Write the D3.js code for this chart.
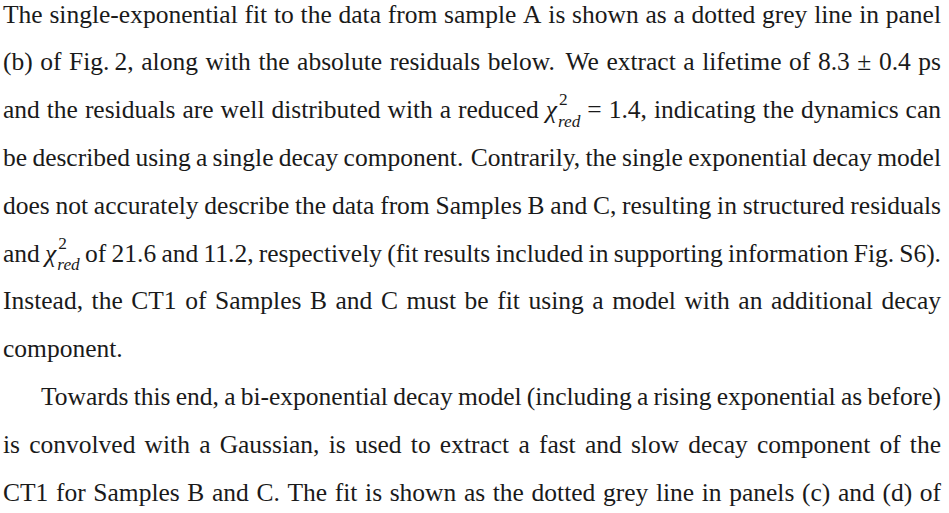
<!DOCTYPE html>
<html>
<head>
<meta charset="utf-8">
<script src="https://cdn.jsdelivr.net/npm/d3@7"></script>
<style>
  body { margin: 0; background: #fff; }
  svg { display: block; }
</style>
</head>
<body>
<div id="page"></div>
<script>
// TEXT DATA: one string per printed line, "{chi}" marks the chi^2_red symbol,
// a double space marks a sentence end (wider TeX space)
const lineText = [
  "The single-exponential fit to the data from sample A is shown as a dotted grey line in panel",
  "(b) of Fig.\u20092, along with the absolute residuals below.  We extract a lifetime of 8.3 \u00b1 0.4 ps",
  "and the residuals are well distributed with a reduced {chi} = 1.4, indicating the dynamics can",
  "be described using a single decay component.  Contrarily, the single exponential decay model",
  "does not accurately describe the data from Samples B and C, resulting in structured residuals",
  "and {chi} of 21.6 and 11.2, respectively (fit results included in supporting information Fig.\u2009S6).",
  "Instead, the CT1 of Samples B and C must be fit using a model with an additional decay",
  "component.",
  "Towards this end, a bi-exponential decay model (including a rising exponential as before)",
  "is convolved with a Gaussian, is used to extract a fast and slow decay component of the",
  "CT1 for Samples B and C. The fit is shown as the dotted grey line in panels (c) and (d) of"
];
const lineIndent = [0, 0, 0, 0, 0, 0, 0, 0, 1, 0, 0];   // first line of a new paragraph
const lineJustify = [1, 1, 1, 1, 1, 1, 1, 0, 1, 1, 1];  // last line of a paragraph is ragged
const chiSup = "2";
const chiSub = "red";

/**********************
***** BASIC SETUP *****
**********************/

const width = 949;
const height = 513;
const margin = {left: 3, right: 8};
const indent = 38;
const fontSize = 25.5;
const FONT = '"Liberation Serif", "Times New Roman", serif';
const INK = "#1a1a1a";

const svg = d3.select("#page")
    .append("svg")
    .attr("width", width)
    .attr("height", height);

// baseline of each printed line
const y = d3.scaleLinear()
    .domain([0, lineText.length - 1])
    .range([22.5, 500.5]);

function drawWord(g, word) {
    if (word === "{chi}") {
        const grp = g.append("g");
        const chi = grp.append("text")
            .attr("font-style", "italic")
            .text("\u03c7");
        const w = chi.node().getComputedTextLength();
        const sup = grp.append("text")
            .attr("x", w + 2)
            .attr("y", -fontSize * 0.5)
            .attr("font-size", fontSize * 0.68)
            .text(chiSup);
        const sub = grp.append("text")
            .attr("x", w + 1)
            .attr("y", fontSize * 0.33)
            .attr("font-size", fontSize * 0.68)
            .attr("font-style", "italic")
            .text(chiSub);
        const extra = Math.max(sup.node().getComputedTextLength() + 2,
                               sub.node().getComputedTextLength() + 1);
        return {sel: grp, width: w + extra, group: true};
    }
    const t = g.append("text").text(word);
    return {sel: t, width: t.node().getComputedTextLength(), group: false};
}

const text = svg.append("g")
    .attr("font-family", FONT)
    .attr("font-size", fontSize)
    .attr("fill", INK);

lineText.forEach((str, i) => {
    const g = text.append("g")
        .attr("transform", `translate(0,${y(i)})`);

    // split into words, remembering sentence ends
    const parts = str.split(/( {2}| )/);
    const words = [];
    const weights = [];
    parts.forEach(p => {
        if (p === "  ") weights.push(1.4);
        else if (p === " ") weights.push(1);
        else if (p !== "") words.push(p);
    });

    const drawn = words.map(w => drawWord(g, w));
    const startX = margin.left + (lineIndent[i] ? indent : 0);
    const total = d3.sum(drawn, d => d.width);
    const unit = lineJustify[i]
        ? (width - margin.right - startX - total) / d3.sum(weights)
        : fontSize * 0.3;

    let x = startX;
    drawn.forEach((d, k) => {
        if (d.group) d.sel.attr("transform", `translate(${x},0)`);
        else d.sel.attr("x", x);
        x += d.width + (k < weights.length ? weights[k] * unit : 0);
    });
});
</script>
</body>
</html>
